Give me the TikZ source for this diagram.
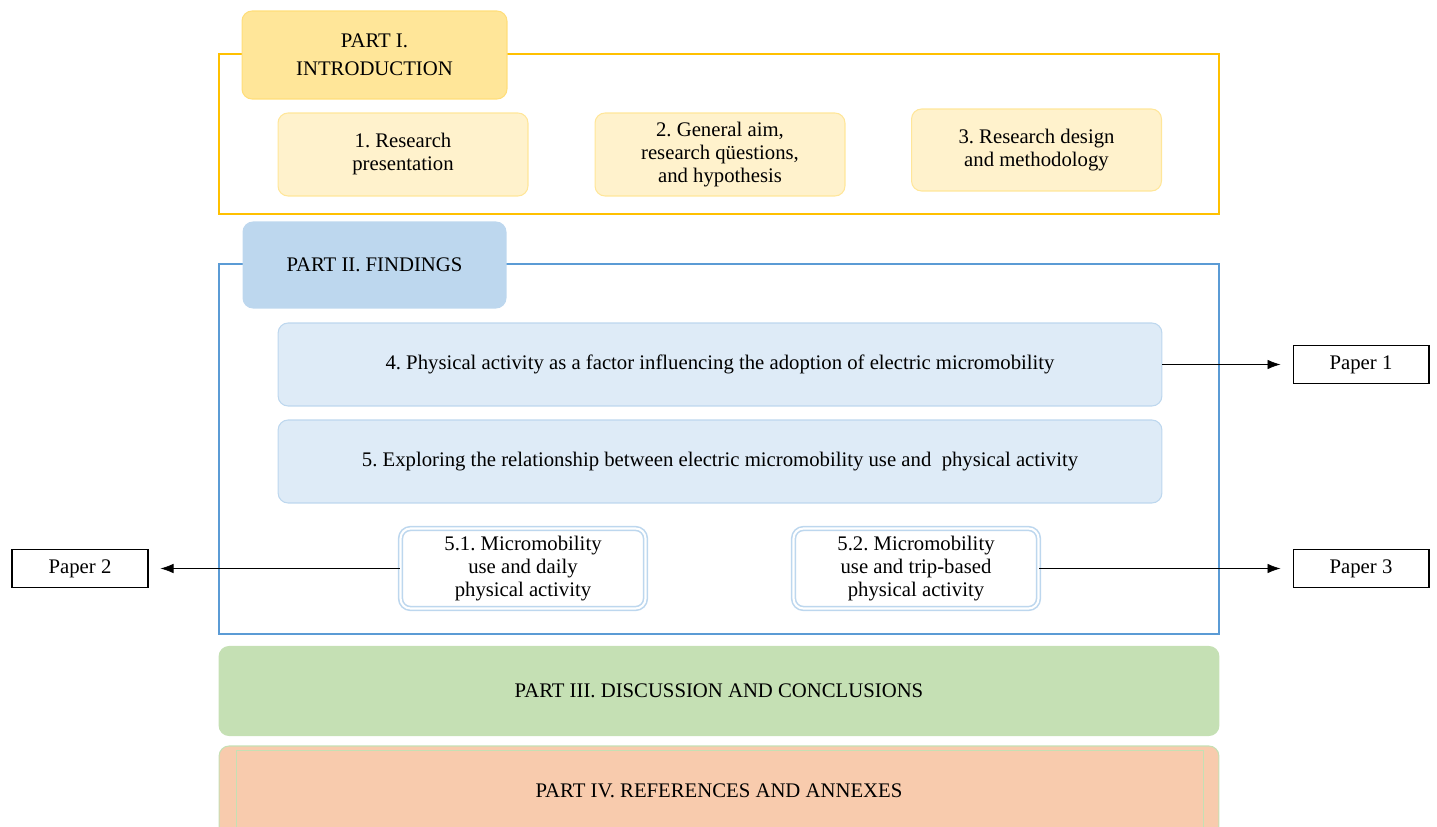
\documentclass[tikz,border=0pt]{standalone}
\usepackage{fontspec}
\setmainfont{Liberation Serif}
\usepackage{tikz}
\usetikzlibrary{arrows.meta,positioning}

\definecolor{introline}{HTML}{FFC000}
\definecolor{introhead}{HTML}{FFE699}
\definecolor{introbox}{HTML}{FFF2CC}
\definecolor{findline}{HTML}{5B9BD5}
\definecolor{findhead}{HTML}{BDD7EE}
\definecolor{findbox}{HTML}{DEEBF7}
\definecolor{discbox}{HTML}{C5E0B4}
\definecolor{refbox}{HTML}{F8CBAD}

\frenchspacing
\begin{document}
\begin{tikzpicture}[
        x=0.02cm,
        y=-0.02cm,
        font=\fontsize{11.8}{13.1}\selectfont,
        frame/.style={line width=0.8pt},
        head/.style={rounded corners=0.2cm, align=center, inner sep=0pt, line width=0.6pt},
        chapter/.style={rounded corners=0.2cm, align=center, inner sep=0pt, line width=0.6pt,
            fill=introbox, draw=introhead, minimum width=5cm, minimum height=1.66cm},
        finding/.style={rounded corners=0.2cm, align=center, inner sep=0pt, line width=0.6pt,
            fill=findbox, draw=findhead, minimum width=17.68cm, minimum height=1.66cm},
        sub/.style={rounded corners=0.2cm, align=center, inner sep=0pt, fill=white,
            draw=findhead, double=white, double distance=1.2pt, line width=0.9pt,
            minimum width=4.9cm, minimum height=1.6cm},
        paper/.style={draw, line width=0.6pt, minimum width=2.72cm, minimum height=0.76cm, inner sep=0pt},
        link/.style={-{Latex[length=2.6mm,width=1.9mm]}, line width=0.4pt}
    ]
        \clip (0,0) rectangle (1437,827);

        % Part I
        \draw[frame, introline] (219,54) rectangle (1219,214);
        \node[head, fill=introhead, draw=introhead!80!introline, minimum width=5.3cm, minimum height=1.76cm]
            (intro) at (374.5,55) {PART I.\\[3pt]INTRODUCTION};
        \node[chapter] (research) at (403,154.5) {1. Research\\presentation};
        \node[chapter] (aim) at (720,154.5) {2. General aim,\\research qüestions,\\and hypothesis};
        \node[chapter, minimum height=1.64cm] (design) at (1036.5,150) {3. Research design\\and methodology};

        % Part II
        \draw[frame, findline, line width=0.6pt] (219,264) rectangle (1219,634);
        \node[head, fill=findhead, draw=findhead, minimum width=5.26cm, minimum height=1.72cm]
            (findings) at (374.5,265) {PART II. FINDINGS};
        \node[finding] (adoption) at (720,364.5) {4. Physical activity as a factor influencing the adoption of electric micromobility};
        \node[finding] (relation) at (720,461.5) {5. Exploring the relationship between electric micromobility use and\ \ physical activity};
        \node[sub] (daily) at (523,568.5) {5.1. Micromobility\\use and daily\\physical activity};
        \node[sub] (trip) at (916,568.5) {5.2. Micromobility\\use and trip-based\\physical activity};

        \node[paper] (paperA) at (1361,364.5) {Paper 1};
        \node[paper] (paperB) at (80,568.5) {Paper 2};
        \node[paper] (paperC) at (1361,568.5) {Paper 3};
        \draw[link] (adoption.east) -- ([xshift=-0.24cm]paperA.west);
        \draw[link] (daily.west) -- ([xshift=0.24cm]paperB.east);
        \draw[link] (trip.east) -- ([xshift=-0.24cm]paperC.west);

        % Parts III and IV
        \node[head, fill=discbox, draw=discbox, minimum width=20cm, minimum height=1.78cm]
            (discussion) at (719,691) {PART III. DISCUSSION AND CONCLUSIONS};
        \node[head, fill=refbox, draw=discbox, minimum width=20cm, minimum height=1.8cm]
            (references) at (719,791) {PART IV. REFERENCES AND ANNEXES};
        \draw[discbox, line width=0.4pt] (236,750) rectangle (1203,840);
    \end{tikzpicture}
\end{document}
